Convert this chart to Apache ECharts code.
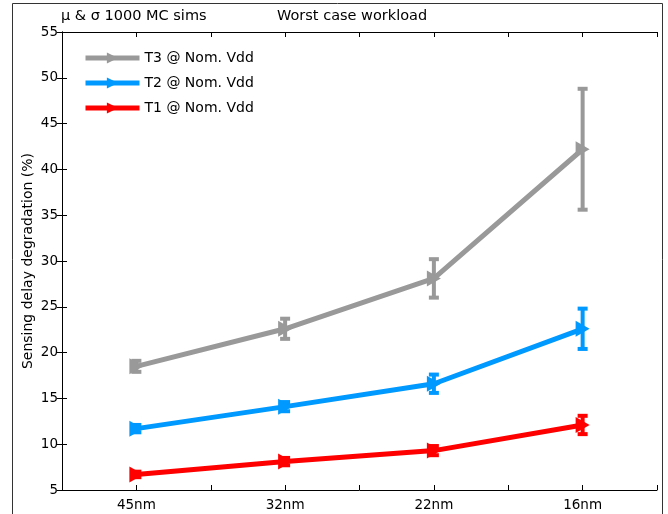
<!DOCTYPE html>
<html><head><meta charset="utf-8">
<script src="https://cdn.jsdelivr.net/npm/echarts@6/dist/echarts.min.js"></script>
<style>html,body{margin:0;padding:0;background:#fff}#c{width:668px;height:514px}</style>
</head><body><div id="c"></div>
<script>
const categories = ['45nm','32nm','22nm','16nm'];
const t3Mean = [18.5, 22.6, 28.1, 42.2];
const t3Sd   = [0.6, 1.1, 2.1, 6.6];
const t2Mean = [11.7, 14.1, 16.6, 22.6];
const t2Sd   = [0.4, 0.5, 1.0, 2.2];
const t1Mean = [6.7, 8.1, 9.3, 12.1];
const t1Sd   = [0.3, 0.4, 0.5, 1.0];
const yTicks = [5,10,15,20,25,30,35,40,45,50,55];

const FONT = 'DejaVu Sans';
const xPos = i => 2*i + 1;
function lineData(m){ return m.map((v,i)=>[xPos(i), v]); }
function errData(m,s){ return m.map((v,i)=>[xPos(i), v - s[i], v + s[i]]); }

function errSeries(name, m, s, color){
  return {
    type:'custom', name: name + ' err', z: 3, silent:true,
    data: errData(m,s),
    renderItem(params, api){
      const x = api.value(0);
      const lo = api.coord([x, api.value(1)]);
      const hi = api.coord([x, api.value(2)]);
      const hw = 5;
      const st = {stroke: color, lineWidth: 4};
      return {type:'group', children:[
        {type:'line', shape:{x1:lo[0],y1:lo[1],x2:hi[0],y2:hi[1]}, style:st},
        {type:'line', shape:{x1:lo[0]-hw,y1:lo[1],x2:lo[0]+hw,y2:lo[1]}, style:st},
        {type:'line', shape:{x1:hi[0]-hw,y1:hi[1],x2:hi[0]+hw,y2:hi[1]}, style:st}
      ]};
    }
  };
}
function lineSeries(name, m, color){
  return {
    type:'line', name, data: lineData(m), z: 4,
    symbol:'triangle', symbolRotate:-90, symbolSize:[16,14],
    lineStyle:{color, width:5}, itemStyle:{color}, animation:false
  };
}

const chart = echarts.init(document.getElementById('c'), null, {renderer:'canvas'});
chart.setOption({
  animation:false,
  backgroundColor:'#fff',
  textStyle:{fontFamily:FONT},
  graphic:[
    {type:'rect', shape:{x:12.5,y:3.5,width:650,height:530}, style:{fill:'none', stroke:'#333', lineWidth:1}},
    {type:'text', left:61, top:9, style:{text:'\u03bc & \u03c3 1000 MC sims', font:'14.5px '+FONT, fill:'#000'}},
    {type:'text', left:277, top:9, style:{text:'Worst case workload', font:'14.5px '+FONT, fill:'#000'}}
  ],
  legend:{
    left:78, top:46, orient:'vertical', itemGap:11, itemWidth:54, itemHeight:14,
    lineStyle:{width:5},
    textStyle:{fontFamily:FONT, fontSize:14, color:'#000'},
    data:['T3 @ Nom. Vdd','T2 @ Nom. Vdd','T1 @ Nom. Vdd']
  },
  grid:{left:62, right:11, top:32, bottom:24},
  xAxis:[{
    type:'value', min:0, max:8, interval:1,
    axisLine:{lineStyle:{color:'#000', width:1}},
    axisTick:{inside:true, length:5, lineStyle:{color:'#000'}},
    splitLine:{show:false},
    axisLabel:{color:'#000', fontSize:13.5, fontFamily:FONT, margin:8,
      formatter: v => (v % 2 === 1) ? categories[(v-1)/2] : ''}
  },{
    type:'value', position:'top', min:0, max:8, interval:1,
    axisLine:{lineStyle:{color:'#000', width:1}},
    axisTick:{inside:true, length:5, lineStyle:{color:'#000'}},
    splitLine:{show:false}, axisLabel:{show:false}
  }],
  yAxis:[{
    type:'value', min:5, max:55, interval:5,
    name:'Sensing delay degradation (%)', nameLocation:'middle', nameGap:27,
    nameMoveOverlap:false,
    nameTextStyle:{color:'#000', fontSize:14, fontFamily:FONT},
    axisLine:{show:true, lineStyle:{color:'#000', width:1}},
    axisTick:{show:true, inside:true, length:5, lineStyle:{color:'#000'}},
    splitLine:{show:false},
    axisLabel:{color:'#000', fontSize:13.5, fontFamily:FONT, margin:4,
      formatter: v => yTicks.includes(v) ? String(v) : ''}
  },{
    type:'value', position:'right', min:5, max:55, interval:5,
    axisLine:{show:true, lineStyle:{color:'#000', width:1}},
    axisTick:{show:true, inside:true, length:5, lineStyle:{color:'#000'}},
    splitLine:{show:false}, axisLabel:{show:false}
  }],
  series:[
    errSeries('T3 @ Nom. Vdd', t3Mean, t3Sd, '#999999'),
    errSeries('T2 @ Nom. Vdd', t2Mean, t2Sd, '#0099ff'),
    errSeries('T1 @ Nom. Vdd', t1Mean, t1Sd, '#ff0000'),
    lineSeries('T3 @ Nom. Vdd', t3Mean, '#999999'),
    lineSeries('T2 @ Nom. Vdd', t2Mean, '#0099ff'),
    lineSeries('T1 @ Nom. Vdd', t1Mean, '#ff0000')
  ]
});
</script></body></html>
